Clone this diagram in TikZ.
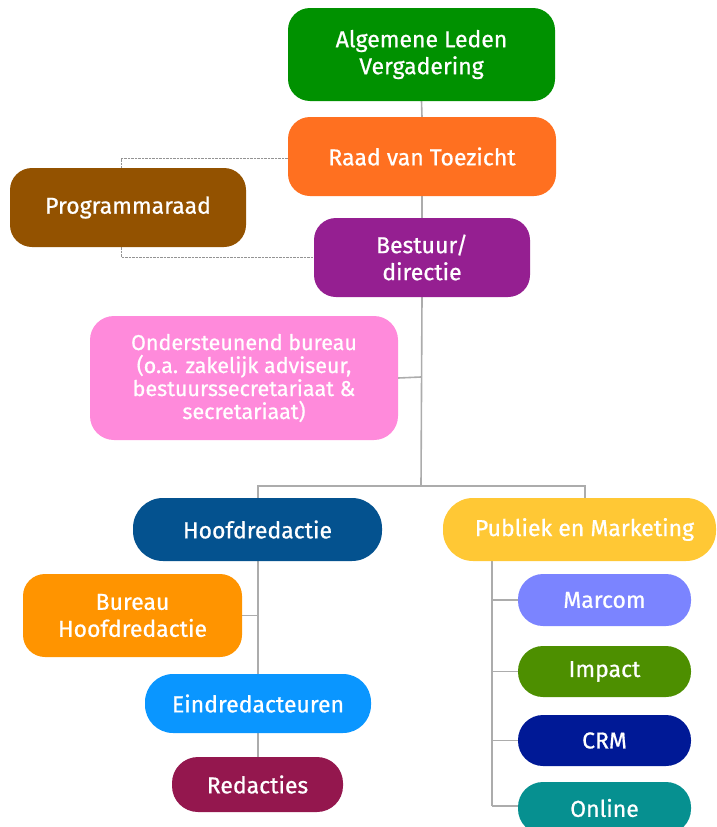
\documentclass[tikz,border=0pt]{standalone}
\usepackage{fontspec}
\setmainfont{Fira Sans}[FakeBold=0.7]
\usetikzlibrary{backgrounds}
\begin{document}
\begin{tikzpicture}[x=1pt,y=-1pt,
  box/.style={rectangle,draw=none,text=white,align=center,inner sep=0pt,
    font=\fontsize{23}{27}\selectfont},
  conn/.style={draw=gray!65,line width=1.6pt},
  dconn/.style={draw=gray!85,line width=1pt,dash pattern=on 2.5pt off 1pt}]
\definecolor{cALV}{HTML}{009100}
\definecolor{cRVT}{HTML}{FF7020}
\definecolor{cPR}{HTML}{935200}
\definecolor{cBD}{HTML}{951F91}
\definecolor{cOB}{HTML}{FF8ADB}
\definecolor{cHR}{HTML}{04528F}
\definecolor{cPM}{HTML}{FFC835}
\definecolor{cBH}{HTML}{FF9400}
\definecolor{cER}{HTML}{0A96FF}
\definecolor{cRD}{HTML}{94174E}
\definecolor{cMC}{HTML}{7B84FF}
\definecolor{cIM}{HTML}{4D8F00}
\definecolor{cCRM}{HTML}{001996}
\definecolor{cON}{HTML}{069090}
\useasboundingbox (0,0) rectangle (716,827);
\clip (0,0) rectangle (716,827);
% nodes
\node[box,fill=cALV,minimum width=267pt,minimum height=93pt,rounded corners=22pt] (alv) at (421.5,54.5) {Algemene Leden\\Vergadering};
\node[box,fill=cRVT,minimum width=268pt,minimum height=79pt,rounded corners=22pt] (rvt) at (422,156.5) {Raad van Toezicht};
\node[box,fill=cPR,minimum width=236pt,minimum height=79pt,rounded corners=22pt] (pr) at (128,207.5) {Programmaraad};
\node[box,fill=cBD,minimum width=216pt,minimum height=79pt,rounded corners=22pt] (bd) at (422,257.5) {Bestuur/\\directie};
\node[box,fill=cOB,minimum width=308pt,minimum height=124pt,rounded corners=24pt,font=\fontsize{21.5}{23}\selectfont] (ob) at (244,378) {Ondersteunend bureau\\(o.a. zakelijk adviseur,\\bestuurssecretariaat \&\\secretariaat)};
\node[box,fill=cHR,minimum width=249pt,minimum height=63pt,rounded corners=30pt] (hr) at (257.5,529.5) {Hoofdredactie};
\node[box,fill=cPM,minimum width=273pt,minimum height=63pt,rounded corners=30pt] (pm) at (579.5,529.5) {\hspace*{10pt}Publiek en Marketing};
\node[box,fill=cBH,minimum width=219pt,minimum height=83pt,rounded corners=22pt] (bh) at (132.5,615.5) {Bureau\\Hoofdredactie};
\node[box,fill=cER,minimum width=226pt,minimum height=59pt,rounded corners=28pt] (er) at (258,703.5) {Eindredacteuren};
\node[box,fill=cRD,minimum width=171pt,minimum height=55pt,rounded corners=26pt] (rd) at (257.5,784.5) {Redacties};
\node[box,fill=cMC,minimum width=173pt,minimum height=52pt,rounded corners=25pt] (mc) at (604.5,600) {Marcom};
\node[box,fill=cIM,minimum width=173pt,minimum height=51pt,rounded corners=25pt] (im) at (604.5,671.5) {Impact};
\node[box,fill=cCRM,minimum width=173pt,minimum height=51pt,rounded corners=25pt] (crm) at (604.5,740.5) {CRM};
\node[box,fill=cON,minimum width=173pt,minimum height=52pt,rounded corners=25pt] (on) at (604.5,808) {Online};
% helper coordinates
\coordinate (tbot) at (421,486);
\coordinate (hl) at (258,486);
\coordinate (hrr) at (585,486);
\coordinate (obj) at (421,377);
\coordinate (bhj) at (258,615.5);
\coordinate (pmx) at (492,561);
\coordinate (mcj) at (492,600);
\coordinate (imj) at (492,671.5);
\coordinate (crmj) at (492,740.5);
\coordinate (onj) at (492,806);
\coordinate (d1) at (121,158);
\coordinate (d2) at (121,257);
% connectors
\begin{scope}[on background layer]
\draw[conn] (alv.south) -- (rvt.north);
\draw[conn] (rvt.south) -- (bd.north);
\draw[conn] (bd.south) -- (tbot);
\draw[conn] (ob.east) -- (obj);
\draw[conn] (hr.north -| hl) -- (hl) -- (hrr) -- (pm.north -| hrr);
\draw[conn] (hr.south -| hl) -- (er.north -| hl);
\draw[conn] (er.south -| hl) -- (rd.north -| hl);
\draw[conn] (bh.east) -- (bhj);
\draw[conn] (pmx) -- (onj);
\draw[conn] (mcj) -- (mc.west);
\draw[conn] (imj) -- (im.west);
\draw[conn] (crmj) -- (crm.west);
\draw[conn] (onj) -- (on.west |- onj);
\draw[dconn] (rvt.west |- d1) -- (d1) -- (pr.north -| d1);
\draw[dconn] (pr.south -| d1) -- (d2) -- (bd.west |- d2);
\end{scope}
\end{tikzpicture}
\end{document}
